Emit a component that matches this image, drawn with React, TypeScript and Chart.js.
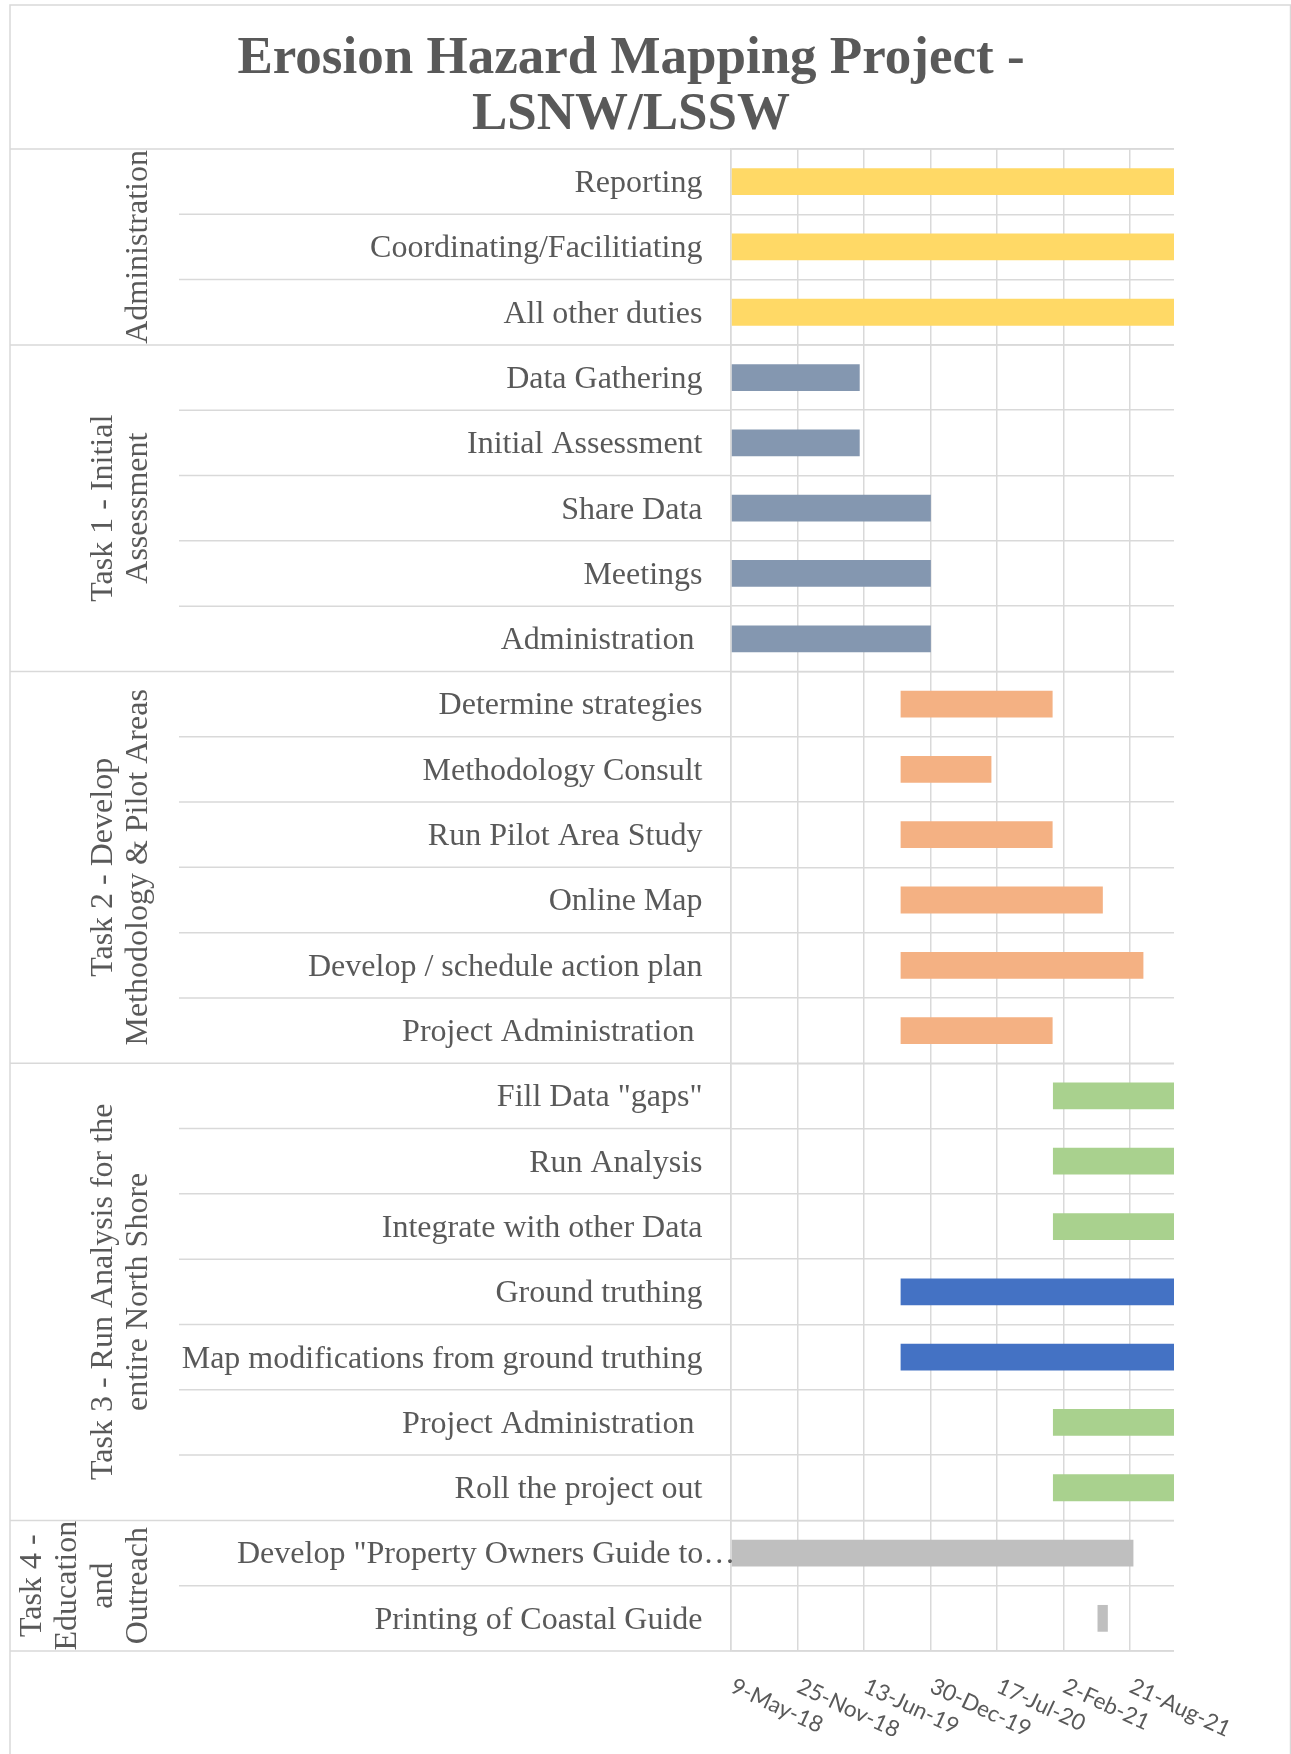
import React, { useEffect, useRef } from 'react';
import { Chart, registerables } from 'chart.js';

Chart.register(...registerables);

const TITLE_LINES = ['Erosion Hazard Mapping Project -', 'LSNW/LSSW'];

const TASKS = [
  'Reporting',
  'Coordinating/Facilitiating',
  'All other duties',
  'Data Gathering',
  'Initial Assessment',
  'Share Data',
  'Meetings',
  'Administration ',
  'Determine strategies',
  'Methodology Consult',
  'Run Pilot Area Study',
  'Online Map',
  'Develop / schedule action plan',
  'Project Administration ',
  'Fill Data "gaps"',
  'Run Analysis',
  'Integrate with other Data',
  'Ground truthing',
  'Map modifications from ground truthing',
  'Project Administration ',
  'Roll the project out',
  'Develop "Property Owners Guide to\u2026',
  'Printing of Coastal Guide',
];

const START_DATES = [
  '2018-05-09', '2018-05-09', '2018-05-09',
  '2018-05-09', '2018-05-09', '2018-05-09', '2018-05-09', '2018-05-09',
  '2019-10-01', '2019-10-01', '2019-10-01', '2019-10-01', '2019-10-01', '2019-10-01',
  '2021-01-01', '2021-01-01', '2021-01-01', '2019-10-01', '2019-10-01', '2021-01-01', '2021-01-01',
  '2018-05-09', '2021-05-15',
];

const END_DATES = [
  '2021-12-31', '2021-12-31', '2021-12-31',
  '2019-05-31', '2019-05-31', '2019-12-31', '2019-12-31', '2019-12-31',
  '2020-12-31', '2020-06-30', '2020-12-31', '2021-05-31', '2021-09-30', '2020-12-31',
  '2021-12-31', '2021-12-31', '2021-12-31', '2021-12-31', '2021-12-31', '2021-12-31', '2021-12-31',
  '2021-08-31', '2021-06-15',
];

const YELLOW = '#FFD966';
const SLATE = '#8497B0';
const ORANGE = '#F4B183';
const GREEN = '#A9D18E';
const BLUE = '#4472C4';
const GREY = '#BFBFBF';

const BAR_COLORS = [
  YELLOW, YELLOW, YELLOW,
  SLATE, SLATE, SLATE, SLATE, SLATE,
  ORANGE, ORANGE, ORANGE, ORANGE, ORANGE, ORANGE,
  GREEN, GREEN, GREEN, BLUE, BLUE, GREEN, GREEN,
  GREY, GREY,
];

const GROUP_LABELS = [
  ['Administration'],
  ['Task 1 - Initial', 'Assessment'],
  ['Task 2 - Develop', 'Methodology & Pilot Areas'],
  ['Task 3 - Run Analysis for the', 'entire North Shore'],
  ['Task 4 -', 'Education', 'and', 'Outreach'],
];
const GROUP_SIZES = [3, 5, 6, 7, 2];

const AXIS_START = '2018-05-09';
const AXIS_END = '2021-12-31';
const TICK_STEP_DAYS = 200;

const MONTHS = ['Jan', 'Feb', 'Mar', 'Apr', 'May', 'Jun', 'Jul', 'Aug', 'Sep', 'Oct', 'Nov', 'Dec'];
const DAY_MS = 86400000;

function dayOffset(d: string): number {
  return Math.round((Date.parse(d) - Date.parse(AXIS_START)) / DAY_MS);
}

function formatTick(v: number): string {
  const d = new Date(Date.parse(AXIS_START) + v * DAY_MS);
  return `${d.getUTCDate()}-${MONTHS[d.getUTCMonth()]}-${String(d.getUTCFullYear()).slice(2)}`;
}

const TEXT_COLOR = '#595959';
const LINE_COLOR = '#D9D9D9';
const SERIF = '"Liberation Serif", "Times New Roman", serif';

const overlayPlugin = {
  id: 'overlay',
  afterDraw(chart: any) {
    const { ctx, chartArea: ca, scales } = chart;
    const y = scales.y;
    const x = scales.x;
    const n = TASKS.length;
    const rowH = y.getPixelForValue(1) - y.getPixelForValue(0);
    ctx.save();

    // outer chart border
    ctx.strokeStyle = LINE_COLOR;
    ctx.lineWidth = 1.5;
    ctx.beginPath();
    ctx.moveTo(10, chart.height + 5);
    ctx.lineTo(10, 5);
    ctx.lineTo(1290.5, 5);
    ctx.lineTo(1290.5, chart.height + 5);
    ctx.stroke();

    // row separators extended into the label area
    const bounds: number[] = [0];
    let acc = 0;
    GROUP_SIZES.forEach((s) => { acc += s; bounds.push(acc); });
    for (let i = 0; i <= n; i++) {
      const py = i < n ? y.getPixelForValue(i) - rowH / 2 : y.getPixelForValue(n - 1) + rowH / 2;
      const isGroup = bounds.includes(i);
      ctx.beginPath();
      ctx.moveTo(isGroup ? 10 : 179, py);
      ctx.lineTo(isGroup ? ca.right : ca.left, py);
      ctx.stroke();
    }

    // title
    ctx.fillStyle = TEXT_COLOR;
    ctx.font = `bold 53px ${SERIF}`;
    ctx.textAlign = 'center';
    ctx.textBaseline = 'alphabetic';
    ctx.fillText(TITLE_LINES[0], 631, 73);
    ctx.fillText(TITLE_LINES[1], 631, 129);

    // category labels
    ctx.font = `32px ${SERIF}`;
    ctx.textBaseline = 'middle';
    const labelRight = 702.5;
    const labelLeft = 237;
    TASKS.forEach((t, i) => {
      const py = y.getPixelForValue(i) + 2;
      if (t.endsWith('\u2026')) {
        ctx.textAlign = 'left';
        ctx.fillText(t, labelLeft, py);
      } else {
        ctx.textAlign = 'right';
        ctx.fillText(t, labelRight, py);
      }
    });

    // group labels (rotated)
    let start = 0;
    GROUP_LABELS.forEach((lines, g) => {
      const first = start;
      const last = start + GROUP_SIZES[g] - 1;
      start += GROUP_SIZES[g];
      const cy = (y.getPixelForValue(first) + y.getPixelForValue(last)) / 2;
      ctx.save();
      ctx.translate(139, cy);
      ctx.rotate(-Math.PI / 2);
      ctx.textAlign = 'center';
      ctx.textBaseline = 'middle';
      lines.forEach((ln, k) => {
        ctx.fillText(ln, 0, -(lines.length - 1 - k) * 35.5);
      });
      ctx.restore();
    });

    // x tick labels (rotated clockwise)
    ctx.font = '22.5px Lato, "Open Sans", sans-serif';
    x.ticks.forEach((tk: any) => {
      const px = x.getPixelForValue(tk.value);
      ctx.save();
      ctx.translate(px + 1, ca.bottom + 34);
      ctx.rotate((25 * Math.PI) / 180);
      ctx.textAlign = 'left';
      ctx.textBaseline = 'middle';
      ctx.fillText(formatTick(tk.value), 0, 0);
      ctx.restore();
    });

    ctx.restore();
  },
};

export default function App() {
  const canvasRef = useRef<HTMLCanvasElement | null>(null);

  useEffect(() => {
    document.body.style.margin = '0';
    const canvas = canvasRef.current;
    if (!canvas) return;
    const chart = new Chart(canvas, {
      type: 'bar',
      data: {
        labels: TASKS,
        datasets: [
          {
            data: TASKS.map((_, i) => [dayOffset(START_DATES[i]), dayOffset(END_DATES[i])]) as any,
            backgroundColor: BAR_COLORS,
            borderWidth: 0,
            barPercentage: 0.41,
            categoryPercentage: 1,
          },
        ],
      },
      options: {
        indexAxis: 'y',
        responsive: false,
        maintainAspectRatio: false,
        animation: false,
        devicePixelRatio: 1,
        layout: { padding: { top: 149, right: 117, bottom: 0, left: 0 } },
        plugins: {
          legend: { display: false },
          title: { display: false },
          tooltip: { enabled: false },
        },
        scales: {
          x: {
            type: 'linear',
            position: 'bottom',
            min: 0,
            max: dayOffset(AXIS_END),
            ticks: { stepSize: TICK_STEP_DAYS, includeBounds: false, display: false },
            grid: { color: LINE_COLOR, lineWidth: 1.5, drawTicks: false },
            border: { display: false },
            afterFit: (s: any) => { s.height = 103; },
          },
          y: {
            ticks: { display: false },
            grid: { color: LINE_COLOR, lineWidth: 1.5, drawTicks: false, offset: true },
            border: { display: true, color: LINE_COLOR, width: 1.5 },
            afterFit: (s: any) => { s.width = 731; },
          },
        },
      } as any,
      plugins: [overlayPlugin],
    });
    return () => chart.destroy();
  }, []);

  return (
    <canvas
      ref={canvasRef}
      width={1291}
      height={1754}
      style={{ display: 'block', width: '1291px', height: '1754px' }}
    />
  );
}
